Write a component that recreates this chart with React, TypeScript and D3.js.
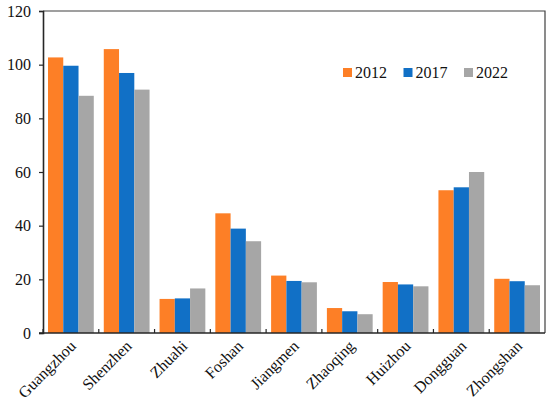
import { useEffect, useRef } from "react";
import * as d3 from "d3";

const CITIES = ["Guangzhou", "Shenzhen", "Zhuahi", "Foshan", "Jiangmen", "Zhaoqing", "Huizhou", "Dongguan", "Zhongshan"];
const YEARS = ["2012", "2017", "2022"];
const VALUES_2012 = [102.7, 105.8, 12.7, 44.6, 21.4, 9.3, 19.0, 53.2, 20.2];
const VALUES_2017 = [99.6, 96.9, 12.9, 38.9, 19.4, 8.1, 18.1, 54.3, 19.3];
const VALUES_2022 = [88.4, 90.7, 16.6, 34.2, 18.9, 7.0, 17.4, 60.0, 17.8];
const Y_TICKS = [0, 20, 40, 60, 80, 100, 120];

const COLORS = ["#fd7f26", "#1170c6", "#a6a6a6"];
const FONT = "'Liberation Serif', 'Times New Roman', serif";

const width = 550;
const height = 404;
const margin = { top: 11, right: 5, bottom: 71, left: 43 };

export default function App() {
  const svgRef = useRef<SVGSVGElement>(null);

  useEffect(() => {
    if (!svgRef.current) return;
    const svg = d3.select(svgRef.current);
    svg.selectAll("*").remove();

    const innerWidth = width - margin.left - margin.right;
    const innerHeight = height - margin.top - margin.bottom;
    const series = [VALUES_2012, VALUES_2017, VALUES_2022];

    const x = d3.scaleBand().domain(CITIES).range([0, innerWidth]).padding(0);
    const inner = d3.scaleBand().domain(YEARS).range([5, x.bandwidth() - 5]).padding(0);
    const y = d3.scaleLinear().domain([0, 120]).range([innerHeight, 0]);

    const g = svg.append("g").attr("transform", `translate(${margin.left},${margin.top})`);

    // bars
    YEARS.forEach((year, si) => {
      g.append("g")
        .selectAll("rect")
        .data(series[si])
        .join("rect")
        .attr("x", (_, i) => (x(CITIES[i]) ?? 0) + (inner(year) ?? 0))
        .attr("y", (d) => y(d))
        .attr("width", inner.bandwidth())
        .attr("height", (d) => innerHeight - y(d))
        .attr("fill", COLORS[si]);
    });

    // frame (top and right)
    g.append("path")
      .attr("d", `M0,0H${innerWidth}V${innerHeight}`)
      .attr("fill", "none")
      .attr("stroke", "#404040")
      .attr("stroke-width", 1.2);

    // y axis
    const yAxis = g.append("g")
      .call(d3.axisLeft(y).tickValues(Y_TICKS).tickSize(4).tickPadding(8))
      .call((a) => a.select(".domain").attr("stroke", "#262626").attr("stroke-width", 1.6));
    yAxis.selectAll("line").attr("stroke", "#262626").attr("stroke-width", 1.2);
    yAxis.selectAll("text")
      .attr("font-family", FONT)
      .attr("font-size", 16)
      .attr("fill", "#111");

    // x axis: ticks at category boundaries, pointing inward
    const xg = g.append("g").attr("transform", `translate(0,${innerHeight})`);
    xg.append("line")
      .attr("x1", -4).attr("x2", innerWidth)
      .attr("stroke", "#262626").attr("stroke-width", 1.6);
    xg.selectAll("line.tick")
      .data(CITIES)
      .join("line")
      .attr("class", "tick")
      .attr("x1", (d) => x(d) ?? 0)
      .attr("x2", (d) => x(d) ?? 0)
      .attr("y1", 0).attr("y2", -4)
      .attr("stroke", "#262626").attr("stroke-width", 1.2);
    xg.selectAll("text")
      .data(CITIES)
      .join("text")
      .attr("transform", (d) => `translate(${(x(d) ?? 0) + x.bandwidth() / 2 + 6},${14}) rotate(-45)`)
      .attr("text-anchor", "end")
      .attr("font-family", FONT)
      .attr("font-size", 16)
      .attr("fill", "#111")
      .text((d) => d);

    // legend
    const legend = svg.append("g").attr("transform", "translate(343,68)");
    YEARS.forEach((year, i) => {
      const item = legend.append("g").attr("transform", `translate(${i * 60.5},0)`);
      item.append("rect").attr("width", 9).attr("height", 9).attr("fill", COLORS[i]);
      item.append("text")
        .attr("x", 12).attr("y", 10)
        .attr("font-family", FONT)
        .attr("font-size", 16)
        .attr("fill", "#111")
        .text(year);
    });
  }, []);

  return (
    <div style={{ position: "fixed", left: 0, top: 0, width, height, background: "#fff" }}>
      <svg ref={svgRef} width={width} height={height} />
    </div>
  );
}
